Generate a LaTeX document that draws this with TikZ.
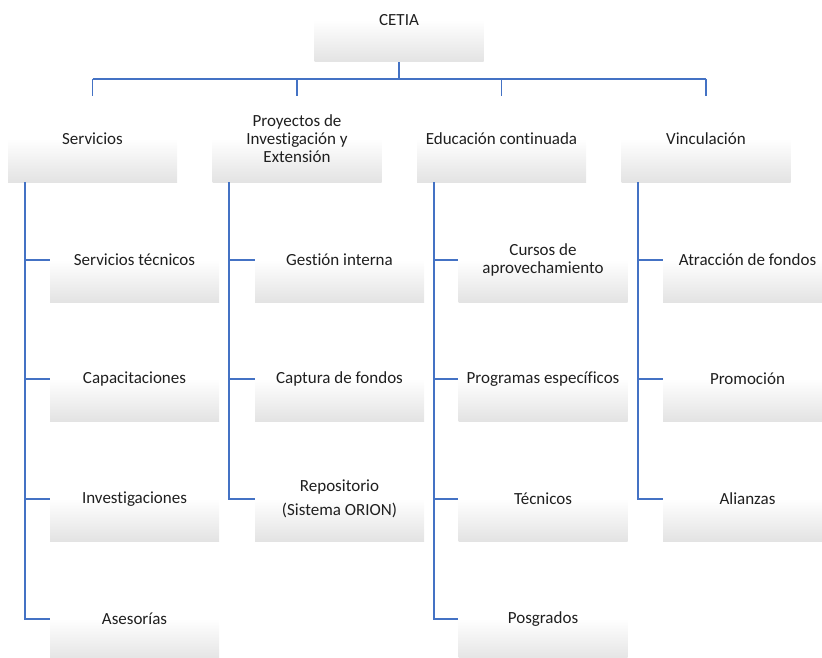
\documentclass[tikz,border=0pt]{standalone}
\usepackage{fontspec}
\setmainfont{Carlito}[Ligatures=NoCommon]
\definecolor{linkblue}{HTML}{4472C4}
\definecolor{txt}{HTML}{1F1F1F}
\begin{document}
\begin{tikzpicture}[x=1pt,y=-1pt,
  box/.style={minimum width=169pt, minimum height=84pt, inner sep=0pt,
    top color=white, bottom color=black!11, middle color=white,
    align=center, text=txt, font=\fontsize{17}{18}\selectfont},
  topbox/.style={box, minimum height=86pt},
  link/.style={draw=linkblue, line width=1.8pt}]
\useasboundingbox (0,0) rectangle (822,658);
\clip (0,0) rectangle (822,658);
% root
\node[box] (cetia) at (399,20) {CETIA};
% level 1
\node[topbox] (serv) at (92.5,139) {Servicios};
\node[topbox] (proy) at (297,139) {Proyectos de\\Investigación y\\Extensión};
\node[topbox] (educ) at (501.5,139) {Educación continuada};
\node[topbox] (vinc) at (706,139) {Vinculación};
% level 2 - Servicios
\node[box] (s1) at (134.5,260) {Servicios técnicos};
\node[box] (s2) at (134.5,379) {Capacitaciones};
\node[box] (s3) at (134.5,499) {Investigaciones};
\node[box] (s4) at (134.5,619) {Asesorías};
% level 2 - Proyectos
\node[box] (p1) at (339.5,260) {Gestión interna};
\node[box] (p2) at (339.5,379) {Captura de fondos};
\node[box] (p3) at (339.5,499) {Repositorio\\[6pt](Sistema ORION)};
% level 2 - Educacion
\node[box] (e1) at (543,260) {Cursos de\\aprovechamiento};
\node[box] (e2) at (543,379) {Programas específicos};
\node[box] (e3) at (543,499) {Técnicos};
\node[box] (e4) at (543,619) {Posgrados};
% level 2 - Vinculacion
\node[box] (v1) at (747.5,260) {Atracción de fondos};
\node[box] (v2) at (747.5,379) {Promoción};
\node[box] (v3) at (747.5,499) {Alianzas};
% connectors from root
\coordinate (bus) at (0,79);
\draw[link] (cetia.south) -- (cetia.south |- bus);
\draw[link] (serv.north |- bus) -- (vinc.north |- bus);
\foreach \n in {serv,proy,educ,vinc}
  \draw[link] (\n.north |- bus) -- (\n.north);
% trunks
\foreach \p/\kids in {serv/{s1,s2,s3,s4}, proy/{p1,p2,p3}, educ/{e1,e2,e3,e4}, vinc/{v1,v2,v3}}{
  \coordinate (t-\p) at ([xshift=17pt]\p.south west);
  \foreach \k in \kids
    \draw[link] (t-\p) |- (\k.west);
}
\end{tikzpicture}
\end{document}
